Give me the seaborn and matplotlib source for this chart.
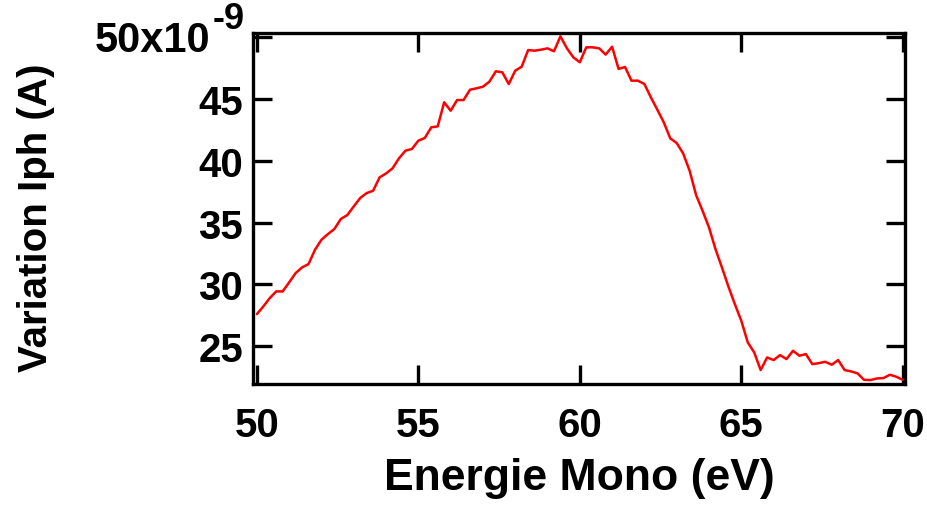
import numpy as np
import pandas as pd
import matplotlib
matplotlib.use("Agg")
import matplotlib.pyplot as plt
import matplotlib.transforms as mtransforms
import seaborn as sns
from matplotlib.ticker import FixedLocator, FuncFormatter

# Photon energy of the monochromator (eV)
energy_ev = [
    50.0, 50.2, 50.4, 50.6, 50.8, 51.0, 51.2, 51.4, 51.6, 51.8,
    52.0, 52.2, 52.4, 52.6, 52.8, 53.0, 53.2, 53.4, 53.6, 53.8,
    54.0, 54.2, 54.4, 54.6, 54.8, 55.0, 55.2, 55.4, 55.6, 55.8,
    56.0, 56.2, 56.4, 56.6, 56.8, 57.0, 57.2, 57.4, 57.6, 57.8,
    58.0, 58.2, 58.4, 58.6, 58.8, 59.0, 59.2, 59.4, 59.6, 59.8,
    60.0, 60.2, 60.4, 60.6, 60.8, 61.0, 61.2, 61.4, 61.6, 61.8,
    62.0, 62.2, 62.4, 62.6, 62.8, 63.0, 63.2, 63.4, 63.6, 63.8,
    64.0, 64.2, 64.4, 64.6, 64.8, 65.0, 65.2, 65.4, 65.6, 65.8,
    66.0, 66.2, 66.4, 66.6, 66.8, 67.0, 67.2, 67.4, 67.6, 67.8,
    68.0, 68.2, 68.4, 68.6, 68.8, 69.0, 69.2, 69.4, 69.6, 69.8,
    70.0,
]

# Photocurrent variation, in units of 1e-9 A
iph_variation_nA = [
    27.59, 28.21, 28.89, 29.43, 29.43, 30.16, 30.91, 31.37, 31.64, 32.80,
    33.61, 34.07, 34.48, 35.29, 35.61, 36.31, 36.99, 37.39, 37.58, 38.66,
    38.98, 39.39, 40.20, 40.82, 40.96, 41.63, 41.85, 42.71, 42.79, 44.74,
    44.06, 44.92, 44.92, 45.76, 45.87, 46.00, 46.41, 47.25, 47.17, 46.22,
    47.30, 47.62, 48.97, 48.92, 49.00, 49.11, 48.87, 50.08, 49.11, 48.38,
    47.98, 49.19, 49.19, 49.11, 48.60, 49.24, 47.44, 47.60, 46.49, 46.49,
    46.22, 45.14, 44.14, 43.12, 41.82, 41.44, 40.60, 39.20, 37.23, 35.96,
    34.61, 32.86, 31.37, 29.83, 28.40, 27.05, 25.30, 24.49, 23.06, 24.08,
    23.87, 24.27, 23.95, 24.62, 24.22, 24.35, 23.54, 23.62, 23.73, 23.49,
    23.87, 23.06, 22.95, 22.79, 22.27, 22.25, 22.38, 22.41, 22.68, 22.52,
    22.27,
]

x_ticks = [50, 55, 60, 65, 70]
y_ticks = [25, 30, 35, 40, 45, 50]
top_label = "50x10"
top_exponent = "-9"

sns.set_theme(style="ticks")
plt.rcParams["font.family"] = ["Liberation Sans", "DejaVu Sans"]
plt.rcParams["font.weight"] = "bold"
for key in ["text.color", "axes.labelcolor", "xtick.color", "ytick.color",
            "axes.edgecolor"]:
    plt.rcParams[key] = "black"

df = pd.DataFrame({"energy": energy_ev, "iph": iph_variation_nA})

fig = plt.figure(figsize=(9.27, 5.06), dpi=100)
ax = fig.add_axes([0.2729, 0.2391, 0.7034, 0.6937])

sns.lineplot(data=df, x="energy", y="iph", ax=ax, color="#ff0000",
             linewidth=1.8, estimator=None, sort=False)

ax.set_xlim(49.88, 70.07)
ax.set_ylim(21.93, 50.35)

ax.xaxis.set_major_locator(FixedLocator(x_ticks))
ax.yaxis.set_major_locator(FixedLocator(y_ticks))
ax.xaxis.set_major_formatter(FuncFormatter(lambda v, p: f"{v:.0f}"))
# the top tick carries the scale factor, drawn separately below
ax.yaxis.set_major_formatter(FuncFormatter(
    lambda v, p: "" if v == y_ticks[-1] else f"{v:.0f}"))

for side in ["left", "right", "top", "bottom"]:
    ax.spines[side].set_visible(True)
    ax.spines[side].set_linewidth(2.4)
    ax.spines[side].set_color("black")

ax.tick_params(axis="both", direction="in", length=14, width=2.4,
               top=True, right=True, colors="black", labelsize=29)
ax.tick_params(axis="x", pad=16)
ax.tick_params(axis="y", pad=7)
for lab in ax.get_xticklabels() + ax.get_yticklabels():
    lab.set_fontweight("bold")

# scale factor label on the top y tick, with a raised exponent
trans = mtransforms.blended_transform_factory(ax.transAxes, ax.transData)
base = ax.text(-0.066, y_ticks[-1] - 0.25, top_label, transform=trans,
               ha="right", va="center", fontsize=30, fontweight="bold")
ax.annotate(top_exponent, xy=(1, 1), xycoords=base,
            xytext=(3, -16), textcoords="offset pixels",
            ha="left", va="bottom", fontsize=26, fontweight="bold")

ax.set_xlabel("Energie Mono (eV)", fontsize=32, fontweight="bold")
ax.set_ylabel("Variation Iph (A)", fontsize=29, fontweight="bold")
ax.xaxis.set_label_coords(0.5, -0.208)
ax.yaxis.set_label_coords(-0.304, 0.477)

fig.savefig("out.png", dpi=100)
